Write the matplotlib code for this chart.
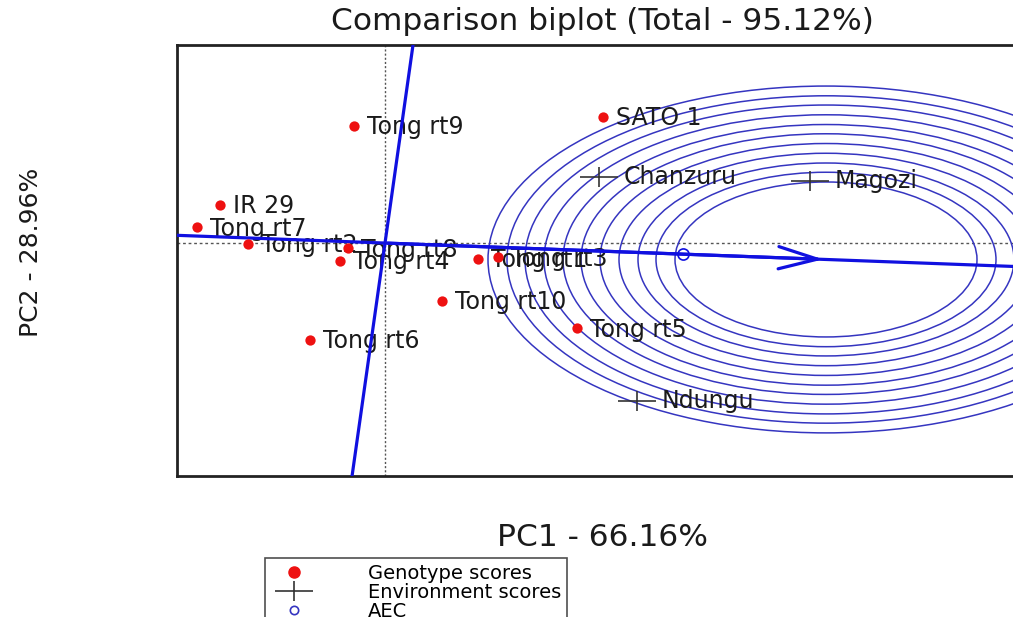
# GGE comparison biplot (ideal environment)

import numpy as np
import matplotlib
matplotlib.use("Agg")
import matplotlib.pyplot as plt
from matplotlib.patches import Circle, FancyArrowPatch
from matplotlib.path import Path
from matplotlib.lines import Line2D

plt.rcParams['font.family'] = ['DejaVu Sans']

# genotype scores
geno_names = ["Tong rt9", "SATO 1", "IR 29", "Tong rt7", "Tong rt2", "Tong rt8",
              "Tong rt4", "Tong rt1", "Tong rt3", "Tong rt10", "Tong rt5", "Tong rt6"]
geno_pc1 = [-0.31, 2.18, -1.65, -1.88, -1.37, -0.37, -0.45, 0.93, 1.13, 0.57, 1.92, -0.75]
geno_pc2 = [2.28, 2.46, 0.74, 0.31, -0.01, -0.10, -0.35, -0.31, -0.28, -1.13, -1.66, -1.89]

# environment scores
env_names = ["Chanzuru", "Magozi", "Ndungu"]
env_pc1 = [2.14, 4.25, 2.52]
env_pc2 = [1.29, 1.20, -3.08]

# average environment coordinate and ideal environment
aec = (2.98, -0.21)
ideal = (4.41, -0.32)
ring_radii = [1.51, 1.70, 1.88, 2.07, 2.26, 2.45, 2.63, 2.82, 3.01, 3.19, 3.38]

title = "Comparison biplot (Total - 95.12%)"
xlab = "PC1 - 66.16%"
ylab = "PC2 - 28.96%"

fig = plt.figure(figsize=(10.13, 6.17), dpi=100)
ax = fig.add_axes([177 / 1013, 1 - 476 / 617, (1040 - 177) / 1013, (476 - 45) / 617])
ax.set_xlim(-2.08, 6.55)
ax.set_ylim(-4.54, 3.86)
ax.set_xticks([])
ax.set_yticks([])
for s in ax.spines.values():
    s.set_linewidth(2)
    s.set_color("#222222")

# dotted axes through the origin
ax.axhline(0, color="#555555", lw=1, ls=(0, (2, 2)), zorder=1)
ax.axvline(0, color="#555555", lw=1, ls=(0, (1.5, 1.5)), zorder=1)

# concentric circles round the ideal environment
for r in ring_radii:
    ax.add_patch(Circle(ideal, r, fill=False, ec="#3535c0", lw=1.1, zorder=2))

# AEC abscissa and ordinate
blue = "#1010e0"
ax.axline((0, 0), ideal, color=blue, lw=2.3, zorder=4)
ax.axline((0, 0), (-ideal[1], ideal[0]), color=blue, lw=2.3, zorder=4)
ax.add_patch(FancyArrowPatch((0, 0), ideal, arrowstyle="->,head_length=1.4,head_width=0.4",
                             mutation_scale=20, color=blue, lw=2.3, zorder=4))
ax.plot(*aec, marker="o", ms=8, mfc="none", mec=blue, mew=1.2, zorder=5)

# genotypes
ax.scatter(geno_pc1, geno_pc2, s=55, color="#ee1111", zorder=5, linewidths=0)
for n, x, y in zip(geno_names, geno_pc1, geno_pc2):
    ax.annotate(n, (x, y), xytext=(9, -1), textcoords="offset points",
                va="center", ha="left", fontsize=17, color="#1a1a1a", zorder=3)

# environments
plus = Path([(-1, 0), (1, 0), (0, -0.5), (0, 0.5)],
            [Path.MOVETO, Path.LINETO, Path.MOVETO, Path.LINETO])
ax.plot(env_pc1, env_pc2, ls="none", marker=plus, ms=28, mec="#333333", mew=1.2, zorder=5)
for n, x, y in zip(env_names, env_pc1, env_pc2):
    ax.annotate(n, (x, y), xytext=(18, 0), textcoords="offset points",
                va="center", ha="left", fontsize=17, color="#1a1a1a", zorder=3)

fig.text(602 / 1013, 1 - 22 / 617, title, ha="center", va="center", fontsize=22.5, color="#1a1a1a")
fig.text(602 / 1013, 1 - 537 / 617, xlab, ha="center", va="center", fontsize=22.5, color="#1a1a1a")
fig.text(31 / 1013, 1 - 252 / 617, ylab, ha="center", va="center", rotation=90,
         fontsize=18, color="#1a1a1a")

handles = [
    Line2D([], [], ls="none", marker="o", ms=8, color="#ee1111"),
    Line2D([], [], ls="none", marker=plus, ms=28, mec="#333333", mew=1.2),
    Line2D([], [], ls="none", marker="o", ms=6, mfc="none", mec="#3535c0", mew=1.2),
]
leg = fig.legend(handles, ["Genotype scores", "Environment scores", "AEC"],
                 loc="upper left", bbox_to_anchor=(265 / 1013, 1 - 558 / 617),
                 bbox_transform=fig.transFigure, fontsize=14, frameon=True,
                 fancybox=False, borderaxespad=0, borderpad=0.3, handlelength=2.4,
                 handletextpad=2.6, labelspacing=0.0)
leg.get_frame().set_edgecolor("#222222")
leg.get_frame().set_linewidth(1.2)

fig.savefig("out.png", dpi=100)
